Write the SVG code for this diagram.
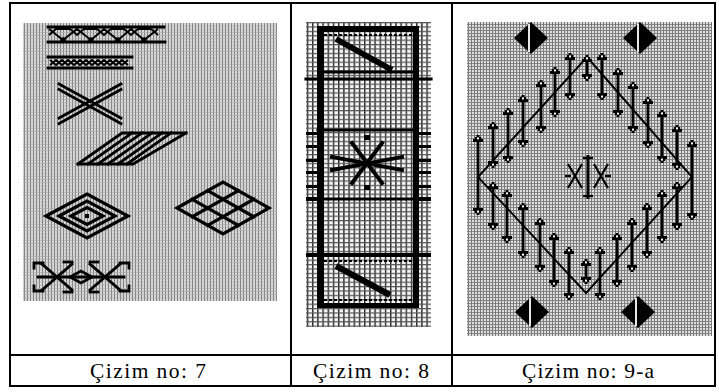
<svg xmlns="http://www.w3.org/2000/svg" width="719" height="392" viewBox="0 0 719 392">
<style>
.tbl{stroke:#000;stroke-width:2;fill:none}
.cap{font-family:"Liberation Serif","Times New Roman",serif;font-size:21.5px;fill:#000}
.s{stroke:#000;stroke-width:2.8;fill:none;stroke-linecap:square;stroke-linejoin:miter}
.t{stroke:#000;stroke-width:1.9;fill:none}
.k{stroke:#000;stroke-width:3.2;fill:none;stroke-linecap:square}
.f{fill:#000}
.dash{stroke:#000;stroke-width:1.8;stroke-dasharray:3 2;fill:none}
.gap{stroke:#fff;stroke-width:1.8}
</style>
<defs>
<pattern id="g1" width="3" height="3.2" patternUnits="userSpaceOnUse">
<rect width="3" height="3.2" fill="#d9d9d9"/>
<rect width="1" height="3.2" fill="#808080"/>
<rect width="3" height="0.7" fill="#ababab"/>
</pattern>
<pattern id="g2" width="5.2" height="4.4" patternUnits="userSpaceOnUse">
<rect width="5.2" height="4.4" fill="#f6f6f6"/>
<rect width="1.4" height="4.4" fill="#2a2a2a"/>
<rect width="5.2" height="1.2" fill="#555"/>
</pattern>
<pattern id="g3" width="3" height="3" patternUnits="userSpaceOnUse">
<rect width="3" height="3" fill="#dedede"/>
<rect width="0.9" height="3" fill="#6c6c6c"/>
<rect width="3" height="0.9" fill="#7c7c7c"/>
</pattern>
<g id="hu"><path d="M-1.5,0 H1.5 V2 H3.2 V4 H5 V7 H-5 V4 H-3.2 V2 H-1.5 Z"/><rect x="-1" y="2.4" width="2" height="2" fill="#fff"/></g>
<g id="hd"><path d="M-1.5,0 H1.5 V-2 H3.2 V-4 H5 V-7 H-5 V-4 H-3.2 V-2 H-1.5 Z"/><rect x="-1" y="-4.4" width="2" height="2" fill="#fff"/></g>
</defs>
<rect width="719" height="392" fill="#fff"/>

<g id="panel7">
<rect x="23" y="23" width="254" height="278" fill="url(#g1)"/>
<g id="band1">
<line class="s" x1="48" y1="27" x2="164" y2="27"/>
<line class="s" x1="48" y1="42" x2="165" y2="42"/>
<polyline class="t" points="49,29 63,40 77,29 91,40 104,29 118,40 131,29 144,40 158,29"/>
<polyline class="t" points="49,35 56,29 70,29 77,35 84,29 97,29 104,35 111,29 124,29 131,35 138,29 151,29 158,35"/>
<circle class="f" cx="63" cy="40" r="2.8"/><circle class="f" cx="91" cy="40" r="2.8"/>
<circle class="f" cx="118" cy="40" r="2.8"/><circle class="f" cx="144" cy="40" r="2.8"/>
</g>
<g id="band2">
<line class="s" x1="48" y1="57" x2="132" y2="57"/>
<line class="s" x1="48" y1="68" x2="132" y2="68"/>
<polyline class="t" points="50,60 56,65 62,60 68,65 74,60 80,65 86,60 92,65 98,60 104,65 110,60 116,65 122,60 128,65"/>
<polyline class="t" points="50,65 56,60 62,65 68,60 74,65 80,60 86,65 92,60 98,65 104,60 110,65 116,60 122,65 128,60"/>
</g>
<g id="xmotif">
<line class="s" x1="59" y1="84" x2="121" y2="118"/>
<line class="s" x1="59" y1="89.5" x2="121" y2="123.5"/>
<line class="s" x1="121" y1="84" x2="59" y2="118"/>
<line class="s" x1="121" y1="89.5" x2="59" y2="123.5"/>
</g>
<g id="hatch">
<polyline class="s" points="78,164 133,164 186,133"/>
<polyline class="s" points="78,164 122,133 186,133"/>
<line class="s" x1="88" y1="164" x2="132" y2="133"/>
<line class="s" x1="98" y1="164" x2="142" y2="133"/>
<line class="s" x1="108" y1="164" x2="152" y2="133"/>
<line class="s" x1="118" y1="164" x2="162" y2="133"/>
<line class="s" x1="127" y1="164" x2="171" y2="133"/>
</g>
<g id="concentric">
<path class="k" d="M46,216 L87,194 L128,216 L87,238 Z"/>
<path class="k" d="M59,216 L87,201 L115,216 L87,231 Z"/>
<path class="k" d="M71,216 L87,207.5 L103,216 L87,224.5 Z"/>
<rect class="f" x="85" y="214" width="4" height="4"/>
</g>
<g id="lattice">
<path class="k" d="M177,208 L223,182 L269,208 L223,234 Z" stroke-width="3.8"/>
<line class="k" x1="192.3" y1="216.7" x2="238.3" y2="190.7" stroke-width="3.8"/>
<line class="k" x1="207.7" y1="225.3" x2="253.7" y2="199.3" stroke-width="3.8"/>
<line class="k" x1="192.3" y1="199.3" x2="238.3" y2="225.3" stroke-width="3.8"/>
<line class="k" x1="207.7" y1="190.7" x2="253.7" y2="216.7" stroke-width="3.8"/>
</g>
<g id="crossmotif">
<line class="s" x1="42" y1="264" x2="72" y2="290"/>
<line class="s" x1="42" y1="290" x2="72" y2="264"/>
<line class="s" x1="90" y1="264" x2="120" y2="290"/>
<line class="s" x1="90" y1="290" x2="120" y2="264"/>
<line class="s" x1="38" y1="277" x2="124" y2="277"/>
<path class="s" d="M70,277 L81,271 L92,277 L81,283 Z"/>
<polyline class="s" points="34,268 34,263 43,263"/>
<polyline class="s" points="34,286 34,291 43,291"/>
<polyline class="s" points="129,268 129,263 120,263"/>
<polyline class="s" points="129,286 129,291 120,291"/>
<polyline class="s" points="64,262 72,262"/>
<polyline class="s" points="90,262 98,262"/>
<polyline class="s" points="64,292 72,292"/>
<polyline class="s" points="90,292 98,292"/>
</g>
</g>

<g id="panel8">
<rect x="306" y="22" width="125" height="305" fill="url(#g2)"/>
<rect class="f" x="317" y="26" width="7" height="282"/>
<rect class="f" x="413" y="26" width="6" height="282"/>
<rect class="f" x="317" y="26" width="102" height="6"/>
<line class="dash" x1="324" y1="35" x2="413" y2="35"/>
<line stroke="#000" stroke-width="6" x1="336" y1="39" x2="392" y2="70"/>
<line class="s" x1="324" y1="72" x2="413" y2="72"/>
<line class="k" x1="306" y1="79" x2="431" y2="79"/>
<line class="k" x1="318" y1="130" x2="416" y2="130"/>
<line class="k" x1="318" y1="199" x2="416" y2="199"/>
<g class="f">
<rect x="306" y="132" width="11" height="3"/><rect x="306" y="145" width="11" height="3"/>
<rect x="306" y="159" width="11" height="3"/><rect x="306" y="171" width="11" height="3"/>
<rect x="306" y="185" width="11" height="3"/><rect x="306" y="197" width="11" height="4"/>
<rect x="419" y="132" width="12" height="3"/><rect x="419" y="145" width="12" height="3"/>
<rect x="419" y="159" width="12" height="3"/><rect x="419" y="171" width="12" height="3"/>
<rect x="419" y="185" width="12" height="3"/><rect x="419" y="197" width="12" height="4"/>
</g>
<g id="star8" stroke="#000" stroke-width="4" stroke-linecap="square">
<line x1="352" y1="143" x2="382" y2="183"/>
<line x1="382" y1="143" x2="352" y2="183"/>
<line x1="332" y1="157" x2="402" y2="170"/>
<line x1="332" y1="170" x2="402" y2="157"/>
<rect x="364" y="135" width="6" height="5" fill="#000" stroke="none"/>
<rect x="364" y="185" width="6" height="5" fill="#000" stroke="none"/>
<rect x="364" y="160" width="6" height="6" fill="#000" stroke="none"/>
</g>
<line stroke="#000" stroke-width="4" x1="306" y1="255" x2="431" y2="255"/>
<line class="dash" x1="324" y1="261" x2="413" y2="261"/>
<line stroke="#000" stroke-width="6" x1="336" y1="266" x2="390" y2="295"/>
<line class="dash" x1="324" y1="300" x2="413" y2="300"/>
<rect class="f" x="317" y="303" width="102" height="5"/>
</g>

<g id="panel9a">
<rect x="467" y="22" width="245" height="314" fill="url(#g3)"/>
<g id="sdiamonds" class="f">
<path d="M514,38 L531,22 L548,38 L531,54 Z"/>
<path d="M623,38 L640,22 L657,38 L640,54 Z"/>
<path d="M515,312 L532,296 L549,312 L532,328 Z"/>
<path d="M621,312 L638,296 L655,312 L638,328 Z"/>
</g>
<line class="gap" x1="529" y1="24" x2="529" y2="52"/>
<line class="gap" x1="638" y1="24" x2="638" y2="52"/>
<line class="gap" x1="530" y1="298" x2="530" y2="326"/>
<line class="gap" x1="636" y1="298" x2="636" y2="326"/>
<path class="t" d="M587,57 L692,177 L586,293 L478,177 Z" stroke-width="1.6"/>
<g id="arrows" stroke="#000" stroke-width="2.8">
<line x1="478" y1="138" x2="478" y2="212"/><line x1="493" y1="125" x2="493" y2="165"/>
<line x1="508" y1="111" x2="508" y2="160"/><line x1="523" y1="98" x2="523" y2="144"/>
<line x1="541" y1="83" x2="541" y2="130"/><line x1="555" y1="70" x2="555" y2="114"/>
<line x1="570" y1="56" x2="570" y2="97"/><line x1="587" y1="61" x2="587" y2="77"/>
<line x1="602" y1="56" x2="602" y2="97"/><line x1="618" y1="71" x2="618" y2="114"/>
<line x1="633" y1="85" x2="633" y2="130"/><line x1="648" y1="100" x2="648" y2="145"/>
<line x1="662" y1="113" x2="662" y2="160"/><line x1="677" y1="128" x2="677" y2="167"/>
<line x1="692" y1="143" x2="692" y2="217"/>
<line x1="493" y1="185" x2="493" y2="227"/><line x1="507" y1="193" x2="507" y2="240"/>
<line x1="523" y1="206" x2="523" y2="255"/><line x1="540" y1="221" x2="540" y2="269"/>
<line x1="554" y1="236" x2="554" y2="284"/><line x1="569" y1="250" x2="569" y2="297"/>
<line x1="586" y1="263" x2="586" y2="280"/><line x1="600" y1="250" x2="600" y2="297"/>
<line x1="617" y1="236" x2="617" y2="284"/><line x1="632" y1="221" x2="632" y2="269"/>
<line x1="647" y1="206" x2="647" y2="255"/><line x1="662" y1="193" x2="662" y2="240"/>
<line x1="677" y1="185" x2="677" y2="227"/>
</g>
<g id="heads" fill="#000">
<use href="#hu" x="478" y="135"/><use href="#hd" x="478" y="215"/>
<use href="#hu" x="493" y="122"/><use href="#hd" x="493" y="168"/>
<use href="#hu" x="508" y="108"/><use href="#hd" x="508" y="163"/>
<use href="#hu" x="523" y="95"/><use href="#hd" x="523" y="147"/>
<use href="#hu" x="541" y="80"/><use href="#hd" x="541" y="133"/>
<use href="#hu" x="555" y="67"/><use href="#hd" x="555" y="117"/>
<use href="#hu" x="570" y="53"/><use href="#hd" x="570" y="100"/>
<use href="#hu" x="587" y="55"/><use href="#hd" x="587" y="81"/>
<use href="#hu" x="602" y="53"/><use href="#hd" x="602" y="100"/>
<use href="#hu" x="618" y="68"/><use href="#hd" x="618" y="117"/>
<use href="#hu" x="633" y="82"/><use href="#hd" x="633" y="133"/>
<use href="#hu" x="648" y="97"/><use href="#hd" x="648" y="148"/>
<use href="#hu" x="662" y="110"/><use href="#hd" x="662" y="163"/>
<use href="#hu" x="677" y="125"/><use href="#hd" x="677" y="170"/>
<use href="#hu" x="692" y="140"/><use href="#hd" x="692" y="220"/>
<use href="#hu" x="493" y="182"/><use href="#hd" x="493" y="230"/>
<use href="#hu" x="507" y="190"/><use href="#hd" x="507" y="243"/>
<use href="#hu" x="523" y="203"/><use href="#hd" x="523" y="258"/>
<use href="#hu" x="540" y="218"/><use href="#hd" x="540" y="272"/>
<use href="#hu" x="554" y="233"/><use href="#hd" x="554" y="287"/>
<use href="#hu" x="569" y="247"/><use href="#hd" x="569" y="300"/>
<use href="#hu" x="586" y="259"/><use href="#hd" x="586" y="284"/>
<use href="#hu" x="600" y="247"/><use href="#hd" x="600" y="300"/>
<use href="#hu" x="617" y="233"/><use href="#hd" x="617" y="287"/>
<use href="#hu" x="632" y="218"/><use href="#hd" x="632" y="272"/>
<use href="#hu" x="647" y="203"/><use href="#hd" x="647" y="258"/>
<use href="#hu" x="662" y="190"/><use href="#hd" x="662" y="243"/>
<use href="#hu" x="677" y="182"/><use href="#hd" x="677" y="230"/>
</g>
<g id="snow" stroke="#000" stroke-width="2.2" fill="none">
<line x1="588" y1="155" x2="588" y2="199" stroke-width="3"/>
<line x1="583" y1="158" x2="593" y2="158"/>
<line x1="583" y1="196" x2="593" y2="196"/>
<line x1="568" y1="164" x2="582" y2="188"/>
<line x1="568" y1="188" x2="582" y2="164"/>
<line x1="594" y1="164" x2="608" y2="188"/>
<line x1="594" y1="188" x2="608" y2="164"/>
<line x1="565" y1="176" x2="571" y2="176"/>
<line x1="605" y1="176" x2="611" y2="176"/>
</g>
</g>

<g id="table">
<rect class="tbl" x="10" y="3" width="705" height="383"/>
<line class="tbl" x1="291" y1="3" x2="291" y2="386"/>
<line class="tbl" x1="452" y1="3" x2="452" y2="386"/>
<line class="tbl" x1="10" y1="355" x2="715" y2="355"/>
</g>
<g id="captions">
<text class="cap" x="148" y="378" text-anchor="middle" textLength="116" lengthAdjust="spacing">Çizim no: 7</text>
<text class="cap" x="371" y="378" text-anchor="middle" textLength="116" lengthAdjust="spacing">Çizim no: 8</text>
<text class="cap" x="588" y="378" text-anchor="middle" textLength="132" lengthAdjust="spacing">Çizim no: 9-a</text>
</g>
</svg>
